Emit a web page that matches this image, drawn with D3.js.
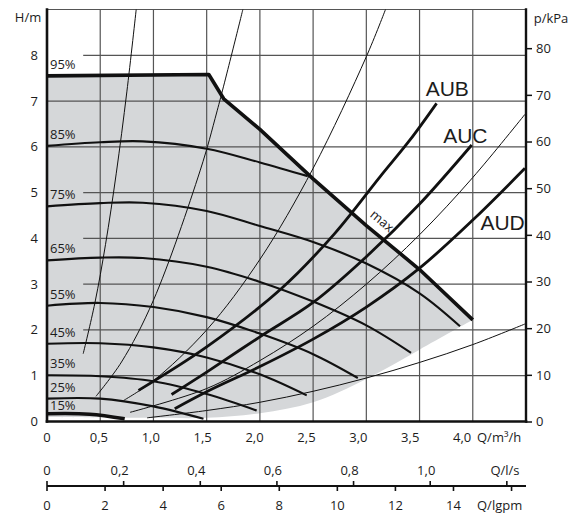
<!DOCTYPE html>
<html><head><meta charset="utf-8">
<script src="https://cdn.jsdelivr.net/npm/d3@7/dist/d3.min.js"></script>
<style>
body{margin:0;background:#fff}
svg{display:block}
text{font-family:"Open Sans",sans-serif;fill:#1c1c1c}
</style></head><body><svg id="c" width="571" height="513"></svg>
<script>
// ---------- data (Q in m³/h, H in m) ----------
const maxCurve = [[0,7.55],[1.52,7.58],[1.66,7.05],[2.0,6.38],[2.5,5.3],[3.0,4.28],[3.5,3.32],[4.0,2.22]];
const lowerBoundary = [[0,0.1],[1.0,0.08],[1.5,0.08],[2.0,0.18],[2.5,0.42],[3.0,0.93],[3.5,1.57],[4.0,2.22]];
const speedLabels = ["95%","85%","75%","65%","55%","45%","35%","25%","15%"];
const c85 = [[0,6.02],[0.5,6.10],[0.9,6.12],[1.5,5.96],[2.0,5.66],[2.45,5.36]];
const c75 = [[0,4.70],[0.5,4.77],[0.9,4.78],[1.5,4.6],[2.0,4.27],[2.5,3.92],[3.0,3.45],[3.5,2.8],[3.88,2.08]];
const c65 = [[0,3.52],[0.5,3.58],[0.9,3.57],[1.5,3.38],[2.0,3.05],[2.5,2.62],[3.0,2.1],[3.42,1.5]];
const c55 = [[0,2.53],[0.5,2.59],[1.0,2.5],[1.5,2.28],[2.0,1.92],[2.5,1.47],[2.92,0.95]];
const c45 = [[0,1.70],[0.5,1.71],[1.0,1.62],[1.5,1.40],[2.0,1.03],[2.44,0.57]];
const c35 = [[0,1.01],[0.5,0.99],[1.0,0.88],[1.5,0.6],[1.97,0.24]];
const c25 = [[0,0.50],[0.5,0.50],[1.0,0.33],[1.47,0.06]];
const c15 = [[0,0.17],[0.4,0.16],[0.73,0.06]];
const speedCurves = [maxCurve,c85,c75,c65,c55,c45,c35,c25,c15];

const auNames = ["AUB","AUC","AUD"];
const aub = [[0.86,0.68],[1.5,1.63],[2.2,2.9],[2.7,4.1],[3.13,5.35],[3.41,6.15],[3.66,6.95]];
const auc = [[1.17,0.59],[1.5,1.08],[2.0,1.85],[2.5,2.6],[3.0,3.6],[3.5,4.75],[3.99,6.04]];
const aud = [[1.2,0.28],[1.5,0.65],[2.0,1.2],[2.5,1.8],[3.0,2.5],[3.5,3.35],[4.0,4.4],[4.49,5.53]];
const auCurves = [aub,auc,aud];
const auLabelAt = [[3.76,7.1],[3.93,6.08],[4.28,4.18]];

const sys1 = [[0.34,1.48],[0.45,2.59],[0.55,3.87],[0.65,5.41],[0.75,7.2],[0.838,9.0]];
const sys2 = [[0.46,0.55],[0.7,1.3],[1.0,2.65],[1.44,5.49],[1.6,6.8],[1.84,9.0]];
const sys3 = [[0.72,0.46],[1.0,0.89],[1.5,2.0],[2.0,3.54],[2.5,5.53],[3.0,7.97],[3.18,9.0]];
const sys4 = [[0.78,0.2],[1.5,0.72],[2.0,1.33],[2.5,2.08],[3.0,3.0],[3.5,4.08],[4.0,5.33],[4.49,6.71]];
const sys5 = [[0.94,0.08],[1.5,0.24],[2.0,0.42],[2.5,0.66],[3.0,0.95],[3.5,1.29],[4.0,1.68],[4.49,2.13]];
const systemCurves = [sys1,sys2,sys3,sys4,sys5];

const hTicks = [0,1,2,3,4,5,6,7,8];
const trimmedGrid = [2,3,4,5,8];
const kpaTicks = [0,10,20,30,40,50,60,70,80];
const qTicks = [0,0.5,1.0,1.5,2.0,2.5,3.0,3.5,4.0];
const lsTicks = [0,0.2,0.4,0.6,0.8,1.0,1.2];
const gpmTicks = [0,2,4,6,8,10,12,14,16];

// ---------- scales ----------
const x = d3.scaleLinear().domain([0,4.5]).range([47,526]);
const y = d3.scaleLinear().domain([0,9]).range([421.5,9.5]);
const yKpa = d3.scaleLinear().domain([0,9*9.81]).range(y.range());
const xLab = d3.scaleLinear().domain([0,4.5]).range([47,47+(526-47)*0.975]);
const xLs = d3.scaleLinear().domain([0,4.5/3.6]).range(x.range());
const xGpm = d3.scaleLinear().domain([0,4.5/0.272765]).range(x.range());
const fmt1 = d => d3.format(".1f")(d).replace(".",",");

const svg = d3.select("#c");
const smooth = d3.line().x(d=>x(d[0])).y(d=>y(d[1])).curve(d3.curveCatmullRom.alpha(0.5));
const lin = d3.line().x(d=>x(d[0])).y(d=>y(d[1]));

// ---------- grey operating area ----------
const upper = lin([[0,lowerBoundary[0][1]], ...maxCurve]);
const lowerRev = smooth(lowerBoundary.slice().reverse()).replace(/^M/,"L");
svg.append("path").attr("d", upper + lowerRev + "Z").attr("fill","#d5d7d9");

// ---------- grid ----------
const grid = svg.append("g").attr("stroke","#555").attr("stroke-width",1.2);
qTicks.filter(d=>d>0).forEach(q=>{
  grid.append("line").attr("x1",x(q)).attr("x2",x(q)).attr("y1",y(0)).attr("y2",y(9));
});
hTicks.filter(d=>d>0).forEach(h=>{
  grid.append("line").attr("x1", trimmedGrid.includes(h)? x(0.34) : x(0)).attr("x2",x(4.5))
    .attr("y1",y(h)).attr("y2",y(h));
});
grid.append("line").attr("x1",x(0)).attr("x2",x(4.5)).attr("y1",y(9)).attr("y2",y(9));

// ---------- system curves ----------
svg.append("g").selectAll("path").data(systemCurves).join("path")
  .attr("d",smooth).attr("fill","none").attr("stroke","#111").attr("stroke-width",1);

// ---------- speed curves ----------
svg.append("g").selectAll("path").data(speedCurves).join("path")
  .attr("d",(d,i)=> i===0 ? lin(d) : smooth(d)).attr("fill","none").attr("stroke","#111")
  .attr("stroke-width",(d,i)=> (i===0||i===speedCurves.length-1) ? 3.6 : 2.1)
  .attr("stroke-linejoin","round");

svg.append("g").selectAll("text").data(speedLabels).join("text")
  .attr("x",50)
  .attr("y",(d,i)=>{ const h = speedCurves[i][0][1]; return y(h) - Math.min(11.5, 6.5 + 9*h); })
  .attr("dy","0.35em")
  .attr("font-size",13).text(d=>d);

// ---------- AU curves ----------
svg.append("g").selectAll("path").data(auCurves).join("path")
  .attr("d",smooth).attr("fill","none").attr("stroke","#111").attr("stroke-width",2.8);
svg.append("g").selectAll("text").data(auNames).join("text")
  .attr("x",(d,i)=>x(auLabelAt[i][0])).attr("y",(d,i)=>y(auLabelAt[i][1]))
  .attr("text-anchor","middle").attr("font-size",21)
  .style("font-family","'Liberation Sans',Arial,sans-serif").text(d=>d);

// max label
{
  const p0 = [x(3.0),y(4.28)], p1 = [x(3.5),y(3.32)];
  const ang = Math.atan2(p1[1]-p0[1], p1[0]-p0[0])*180/Math.PI;
  const px = x(3.08), py = y(4.13);
  svg.append("text").attr("transform",`translate(${px},${py}) rotate(${ang}) translate(0,-9)`)
    .attr("text-anchor","middle").attr("font-size",13).text("max.");
}

// ---------- axes frames ----------
const ax = svg.append("g").attr("stroke","#111").attr("stroke-linecap","square");
ax.append("line").attr("x1",x(0)).attr("x2",x(0)).attr("y1",y(0)).attr("y2",y(9)).attr("stroke-width",2.6);
ax.append("line").attr("x1",x(4.5)).attr("x2",x(4.5)).attr("y1",y(0)).attr("y2",y(9)).attr("stroke-width",2.4);
ax.append("line").attr("x1",x(0)).attr("x2",x(4.5)).attr("y1",y(0)).attr("y2",y(0)).attr("stroke-width",2.6);

// left labels
svg.append("g").selectAll("text").data(hTicks).join("text")
  .attr("x",38).attr("y",d=>y(d)).attr("dy","0.35em").attr("text-anchor","end")
  .attr("font-size",13).text(d=>d);
svg.append("text").attr("x",28).attr("y",17).attr("dy","0.35em").attr("text-anchor","middle")
  .attr("font-size",13).text("H/m");

// right kPa axis
const right = svg.append("g").attr("transform",`translate(${x(4.5)},0)`)
  .call(d3.axisRight(yKpa).tickValues(kpaTicks).tickSize(6).tickPadding(4));
right.select(".domain").remove();
right.selectAll("line").attr("stroke","#111").attr("stroke-width",1.5);
right.selectAll("text").attr("font-size",13).attr("font-family","'Open Sans',sans-serif").attr("fill","#1c1c1c");
svg.append("text").attr("x",551).attr("y",18).attr("dy","0.35em").attr("text-anchor","middle")
  .attr("font-size",13).text("p/kPa");

// bottom m³/h labels
svg.append("g").selectAll("text").data(qTicks).join("text")
  .attr("x",d=>xLab(d)).attr("y",437).attr("dy","0.35em").attr("text-anchor","middle")
  .attr("font-size",13).text(d=> d===0 ? "0" : fmt1(d));
svg.append("text").attr("x",477).attr("y",437).attr("dy","0.35em").attr("font-size",13).text("Q/m³/h");

// second axis (l/s above, lgpm below)
const ya = 486;
const sa = svg.append("g").attr("stroke","#111");
sa.append("line").attr("x1",x(0)).attr("x2",x(4.5)).attr("y1",ya).attr("y2",ya).attr("stroke-width",2);
sa.selectAll(".ls").data(lsTicks).join("line").attr("class","ls")
  .attr("x1",d=>xLs(d)).attr("x2",d=>xLs(d)).attr("y1",ya-5).attr("y2",ya).attr("stroke-width",1.6);
sa.selectAll(".gp").data(gpmTicks).join("line").attr("class","gp")
  .attr("x1",d=>xGpm(d)).attr("x2",d=>xGpm(d)).attr("y1",ya).attr("y2",ya+5).attr("stroke-width",1.6);

svg.append("g").selectAll("text").data(lsTicks.slice(0,-1)).join("text")
  .attr("x",d=>xLs(d)-(d===0?0:4)).attr("y",470).attr("dy","0.35em").attr("text-anchor","middle")
  .attr("font-size",13).text(d=> d===0 ? "0" : fmt1(d));
svg.append("text").attr("x",505).attr("y",470).attr("dy","0.35em").attr("text-anchor","middle")
  .attr("font-size",13).text("Q/l/s");
svg.append("g").selectAll("text").data(gpmTicks.slice(0,-1)).join("text")
  .attr("x",d=>xGpm(d)).attr("y",505).attr("dy","0.35em").attr("text-anchor","middle")
  .attr("font-size",13).text(d=>d);
svg.append("text").attr("x",477).attr("y",505).attr("dy","0.35em").attr("font-size",13).text("Q/lgpm");
</script></body></html>
